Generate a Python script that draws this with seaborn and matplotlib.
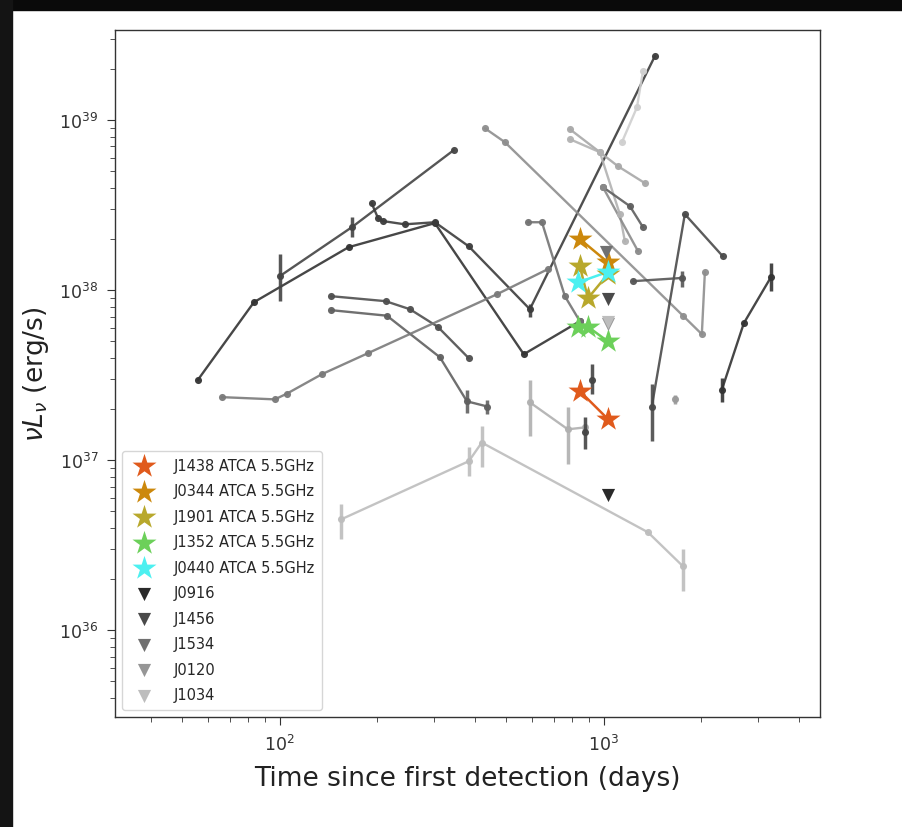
import matplotlib
matplotlib.use("Agg")
import matplotlib.pyplot as plt
import matplotlib.patches as mpatches
from matplotlib.ticker import NullFormatter
import seaborn as sns
import numpy as np

# ---------------- data (days, erg/s) ----------------
s1_x = [55.8, 83.2, 163, 301, 566, 843]
s1_y = [2.96e37, 8.5e37, 1.79e38, 2.48e38, 4.2e37, 6.57e37]

s2_x = [100, 167, 344]
s2_y = [1.21e38, 2.35e38, 6.66e38]
s2_err = [(100, 8.62e37, 1.63e38), (167, 2.05e38, 2.69e38)]

s3_x = [192, 201, 208, 243, 301, 383, 591, 1437]
s3_y = [3.25e38, 2.65e38, 2.55e38, 2.44e38, 2.51e38, 1.81e38, 7.73e37, 2.38e39]
s3_err = [(591, 6.94e37, 8.27e37)]

s4_x = [144, 212, 252, 307, 383]
s4_y = [9.22e37, 8.62e37, 7.73e37, 6.10e37, 3.98e37]

s5_x = [144, 214, 312, 378, 437]
s5_y = [7.63e37, 7.08e37, 4.03e37, 2.22e37, 2.07e37]
s5_err = [(378, 1.89e37, 2.60e37), (437, 1.87e37, 2.26e37)]

s6_x = [66.2, 96.5, 105, 135, 187, 468, 672]
s6_y = [2.35e37, 2.28e37, 2.46e37, 3.21e37, 4.26e37, 9.47e37, 1.33e38]

s7_x = [429, 495, 1754, 2006, 2050]
s7_y = [8.97e38, 7.42e38, 7.08e37, 5.51e37, 1.28e38]

s8_x = [583, 644, 758, 843]
s8_y = [2.51e38, 2.51e38, 9.22e37, 6.57e37]

s9_x = [591, 774, 874]
s9_y = [2.19e37, 1.52e37, 1.56e37]
s9_err = [(591, 1.38e37, 2.98e37), (774, 9.47e36, 2.05e37)]

s10_x = [874, 918]
s10_y = [1.47e37, 2.98e37]
s10_err = [(874, 1.16e37, 1.79e37), (918, 2.45e37, 3.67e37)]

s11_x = [1406, 1778, 2330]
s11_y = [2.07e37, 2.80e38, 1.58e38]
s11_err = [(1406, 1.29e37, 2.80e37)]

s12_x = [2313, 2704, 3275]
s12_y = [2.60e37, 6.40e37, 1.19e38]
s12_err = [(2313, 2.19e37, 3.04e37), (3275, 9.87e37, 1.44e38)]

s13_x = [1230, 1741]
s13_y = [1.13e38, 1.18e38]
s13_err = [(1741, 1.04e38, 1.29e38)]

s14_x = [1656]
s14_y = [2.28e37]
s14_err = [(1656, 2.15e37, 2.42e37)]

s15_x = [155, 383, 420, 1368, 1754]
s15_y = [4.5e36, 9.87e36, 1.27e37, 3.77e36, 2.38e36]
s15_err = [(155, 3.43e36, 5.51e36), (383, 8.05e36, 1.19e37),
           (420, 9.10e36, 1.58e37), (1754, 1.70e36, 2.99e36)]

s16_x = [1320, 1265, 1137]
s16_y = [1.94e39, 1.19e39, 7.42e38]

s17_x = [785, 972, 1105, 1339]
s17_y = [8.85e38, 6.48e38, 5.36e38, 4.26e38]

s18_x = [785, 972, 1120, 1161]
s18_y = [7.73e38, 6.48e38, 2.80e38, 1.94e38]

s19_x = [993, 1203, 1320]
s19_y = [4.04e38, 3.12e38, 2.35e38]

s20_x = [993, 1274]
s20_y = [4.04e38, 1.70e38]

# ATCA 5.5 GHz detections
star_names = ["J1438 ATCA 5.5GHz", "J0344 ATCA 5.5GHz", "J1901 ATCA 5.5GHz",
              "J1352 ATCA 5.5GHz", "J0440 ATCA 5.5GHz"]
star_x = [[843, 1028], [843, 1028], [843, 893, 1028], [831, 893, 1028], [831, 1028]]
star_y = [[2.55e37, 1.75e37], [2.00e38, 1.46e38], [1.38e38, 8.97e37, 1.24e38],
          [6.10e37, 6.10e37, 5.0e37], [1.11e38, 1.28e38]]
star_colors = ["#E05A1C", "#CC880C", "#B8A82C", "#6CD05A", "#4CF0F0"]

# upper limits
lim_names = ["J0916", "J1456", "J1534", "J0120", "J1034"]
lim_x = [1028, 1028, 1014, 1028, 1028]
lim_y = [6.22e36, 8.85e37, 1.67e38, 6.31e37, 6.5e37]
lim_colors = ["#2a2a2a", "#4a4a4a", "#707070", "#969696", "#bdbdbd"]

# ---------------- figure ----------------
sns.set_style("ticks")
plt.rcParams["font.family"] = ["DejaVu Sans"]

fig = plt.figure(figsize=(9.02, 8.28), dpi=100)
fig.patch.set_facecolor("white")
ax = fig.add_axes([115 / 902, 1 - 718 / 828, 705 / 902, 687 / 828])
ax.set_xscale("log")
ax.set_yscale("log")

series = [
    (s1_x, s1_y, None, "#333333"),
    (s2_x, s2_y, s2_err, "#444444"),
    (s3_x, s3_y, s3_err, "#3c3c3c"),
    (s4_x, s4_y, None, "#4f4f4f"),
    (s5_x, s5_y, s5_err, "#606060"),
    (s6_x, s6_y, None, "#7a7a7a"),
    (s7_x, s7_y, None, "#8e8e8e"),
    (s8_x, s8_y, None, "#737373"),
    (s9_x, s9_y, s9_err, "#b0b0b0"),
    (s10_x, s10_y, s10_err, None),
    (s11_x, s11_y, s11_err, "#4a4a4a"),
    (s12_x, s12_y, s12_err, "#333333"),
    (s13_x, s13_y, s13_err, "#555555"),
    (s14_x, s14_y, s14_err, "#9a9a9a"),
    (s15_x, s15_y, s15_err, "#bdbdbd"),
    (s16_x, s16_y, None, "#cfcfcf"),
    (s17_x, s17_y, None, "#a8a8a8"),
    (s18_x, s18_y, None, "#b2b2b2"),
    (s19_x, s19_y, None, "#5e5e5e"),
    (s20_x, s20_y, None, "#8a8a8a"),
]

for xs, ys, errs, c in series:
    col = c if c is not None else "#444444"
    if c is not None and len(xs) > 1:
        sns.lineplot(x=xs, y=ys, sort=False, estimator=None, color=col, lw=1.7,
                     alpha=0.9, ax=ax, legend=False)
    sns.scatterplot(x=xs, y=ys, color=col, s=26, linewidth=0, alpha=0.95,
                    ax=ax, legend=False, zorder=3)
    if errs:
        ex = [e[0] for e in errs]
        ax.vlines(ex, [e[1] for e in errs], [e[2] for e in errs], color=col,
                  lw=2.5, alpha=0.9, zorder=3)

for name, xs, ys, c in zip(star_names, star_x, star_y, star_colors):
    sns.lineplot(x=xs, y=ys, sort=False, estimator=None, color=c, lw=1.8,
                 ax=ax, legend=False, zorder=4)
    sns.scatterplot(x=xs, y=ys, marker="*", s=330, color=c, linewidth=0,
                    ax=ax, label=name, zorder=5)

for name, x, y, c in zip(lim_names, lim_x, lim_y, lim_colors):
    sns.scatterplot(x=[x], y=[y], marker="v", s=90, color=c, linewidth=0,
                    ax=ax, label=name, zorder=5)

ax.set_xlim(31, 4645)
ax.set_ylim(3.09e35, 3.39e39)
ax.xaxis.set_minor_formatter(NullFormatter())
ax.yaxis.set_minor_formatter(NullFormatter())
ax.tick_params(axis="both", which="major", labelsize=12.5, length=6, pad=6,
               color="#333333", labelcolor="#333333")
ax.tick_params(axis="both", which="minor", length=3.5, color="#333333")
for sp in ax.spines.values():
    sp.set_color("#333333")
    sp.set_linewidth(1.0)

ax.set_xlabel("Time since first detection (days)", fontsize=19, labelpad=8,
              color="#222222")
ax.set_ylabel(r"$\nu L_\nu$ (erg/s)", fontsize=19, labelpad=6, color="#222222")

leg = ax.legend(loc="lower left", fontsize=10.5, frameon=True, borderpad=0.5,
                labelspacing=0.72, handletextpad=1.0, borderaxespad=0.5)
leg.get_frame().set_edgecolor("#cccccc")

# dark screenshot edges
fig.patches.append(mpatches.Rectangle((0, 1 - 11 / 828), 1, 11 / 828,
                                      transform=fig.transFigure, color="#0a0a0a", zorder=10))
fig.patches.append(mpatches.Rectangle((0, 0), 12 / 902, 1,
                                      transform=fig.transFigure, color="#141414", zorder=10))

fig.savefig("out.png", dpi=100)
